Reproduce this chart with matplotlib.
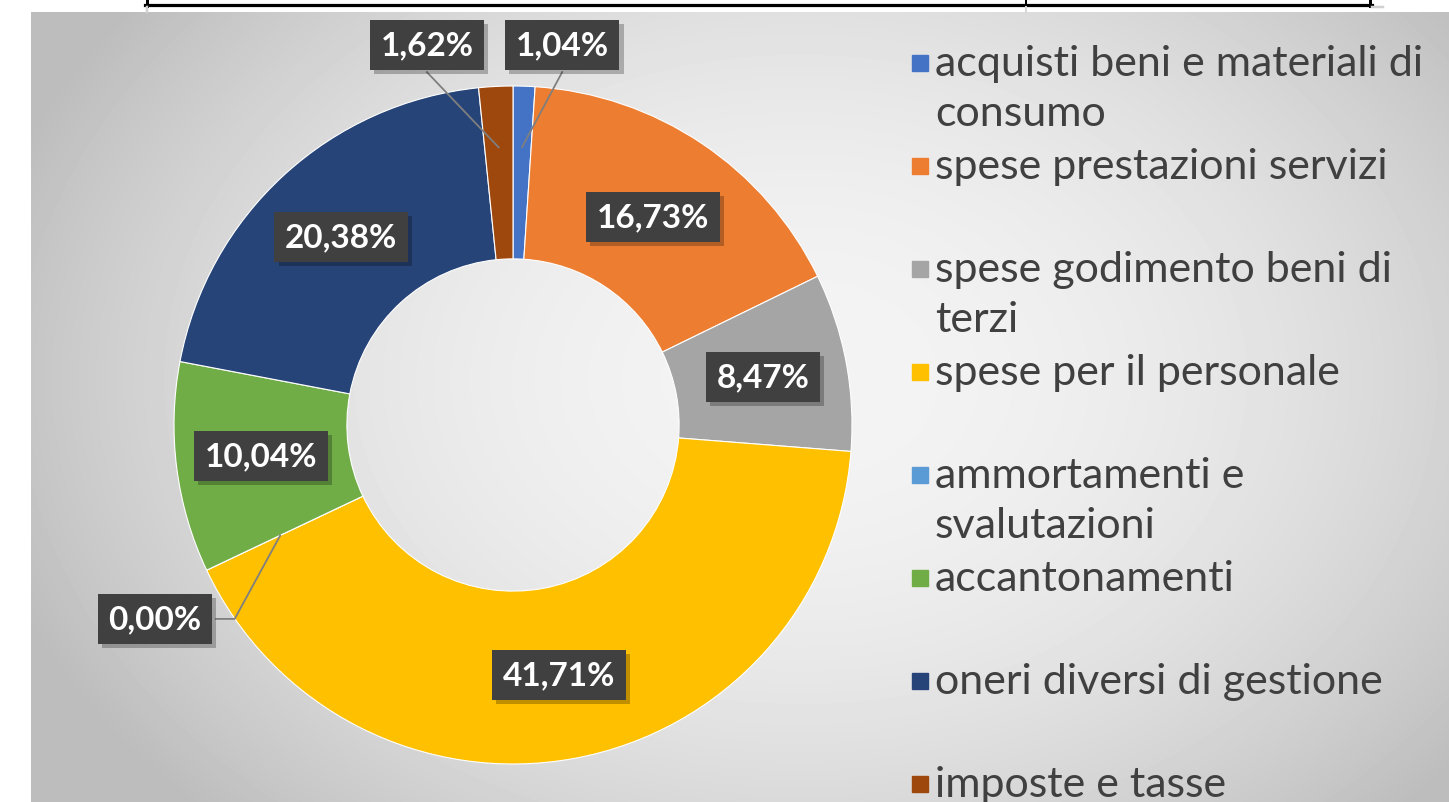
import numpy as np
import matplotlib.pyplot as plt
import matplotlib.patheffects as pe
from matplotlib.patches import Rectangle
from matplotlib.lines import Line2D

W, H = 1449, 803

categorie = ["acquisti beni e materiali di\nconsumo",
             "spese prestazioni servizi",
             "spese godimento beni di\nterzi",
             "spese per il personale",
             "ammortamenti e\nsvalutazioni",
             "accantonamenti",
             "oneri diversi di gestione",
             "imposte e tasse"]
percentuali = [1.04, 16.73, 8.47, 41.71, 0.00, 10.04, 20.38, 1.62]
colori = ["#4472C4", "#ED7D31", "#A5A5A5", "#FFC000",
          "#5B9BD5", "#70AD47", "#264478", "#9E480E"]

# label box centres (pie data units) and which ones get a leader line
pos_etichette = [(0.145, 1.121), (0.413, 0.614), (0.737, 0.142), (0.136, -0.737),
                 (-1.056, -0.572), (-0.743, -0.091), (-0.507, 0.555), (-0.254, 1.121)]
con_linea = [True, False, False, False, True, False, False, True]


def px(x, y):
    return x / W, 1 - y / H


fig = plt.figure(figsize=(W / 100, H / 100), dpi=100)
fig.patch.set_facecolor("white")

# radial grey background of the chart area
bg = fig.add_axes([31 / W, 0, 1 - 31 / W, (H - 13) / H])
gx, gy = np.meshgrid(np.arange(31, W), np.arange(13, H))
d2 = ((gx - 800) / 770.0) ** 2 + ((gy - 380) / 560.0) ** 2
shade = np.clip(0.955 - 0.18 * d2, 0.74, 1.0)
bg.imshow(shade, cmap="gray", vmin=0, vmax=1, aspect="auto", interpolation="bilinear")
bg.axis("off")

# bits of the table above the chart
for (x0, y0, x1, y1, c, lw) in [(145, 6, 1372, 6, "black", 3.2),
                                (147, 0, 147, 7, "black", 3.0),
                                (1370, 0, 1370, 7, "black", 3.0),
                                (1026, 0, 1026, 7, "black", 2.0),
                                (147, 8, 147, 13, "#d0d0d0", 2.5),
                                (1026, 8, 1026, 13, "#d8d8d8", 2.0),
                                (1372, 8, 1383, 8, "#d0d0d0", 2.5)]:
    a, b = px(x0, y0)
    c2, d = px(x1, y1)
    fig.add_artist(Line2D([a, c2], [b, d], color=c, lw=lw * 0.72))

# donut
cx, cy, R = 513, 426, 339
ax = fig.add_axes([(cx - R) / W, (H - cy - R) / H, 2 * R / W, 2 * R / H])
ax.pie(percentuali, colors=colori, startangle=90, counterclock=False, radius=1,
       wedgeprops=dict(width=0.51, edgecolor="white", linewidth=0.8))
ax.set_xlim(-1, 1)
ax.set_ylim(-1, 1)
ax.axis("off")

cum = np.cumsum([0] + percentuali)
fs = 24
for i, v in enumerate(percentuali):
    lx, ly = pos_etichette[i]
    testo = f"{v:.2f}%".replace(".", ",")
    if con_linea[i]:
        mid = np.deg2rad(90 - (cum[i] + v / 2) / 100 * 360)
        r = 0.76 if v == 0 else 0.82
        ex, ey = r * np.cos(mid), r * np.sin(mid)
        if ly > 1:
            xs, ys = [lx, ex], [ly - 0.08, ey]
        else:
            xs, ys = [lx + 0.18, lx + 0.235, ex], [ly, ly, ey]
        ax.plot(xs, ys, color="#7f7f7f", lw=1.3, clip_on=False, zorder=3)
    t = ax.text(lx, ly, testo, ha="center", va="center", fontsize=fs,
                fontweight="bold", family="Lato", color="white",
                bbox=dict(boxstyle="square,pad=0.32", fc="#404040", ec="none"),
                zorder=5)
    # soft drop shadow under the box
    t.get_bbox_patch().set_path_effects([
        pe.SimplePatchShadow(offset=(3, -3), shadow_rgbFace="black", alpha=0.25),
        pe.Normal()])

# legend, one slot per entry
y0, passo = 64, 103
for i, (lab, col) in enumerate(zip(categorie, colori)):
    yc = y0 + i * passo
    fig.patches.append(Rectangle(px(912, yc + 8), 16 / W, 16 / H, color=col,
                                 transform=fig.transFigure, figure=fig))
    righe = lab.split("\n")
    for k, riga in enumerate(righe):
        xt, yt = px(935, yc + k * 50)
        fig.text(xt, yt, riga, fontsize=31, family="Lato", color="#404040",
                 va="center", ha="left")

fig.savefig("out.png", dpi=100)
